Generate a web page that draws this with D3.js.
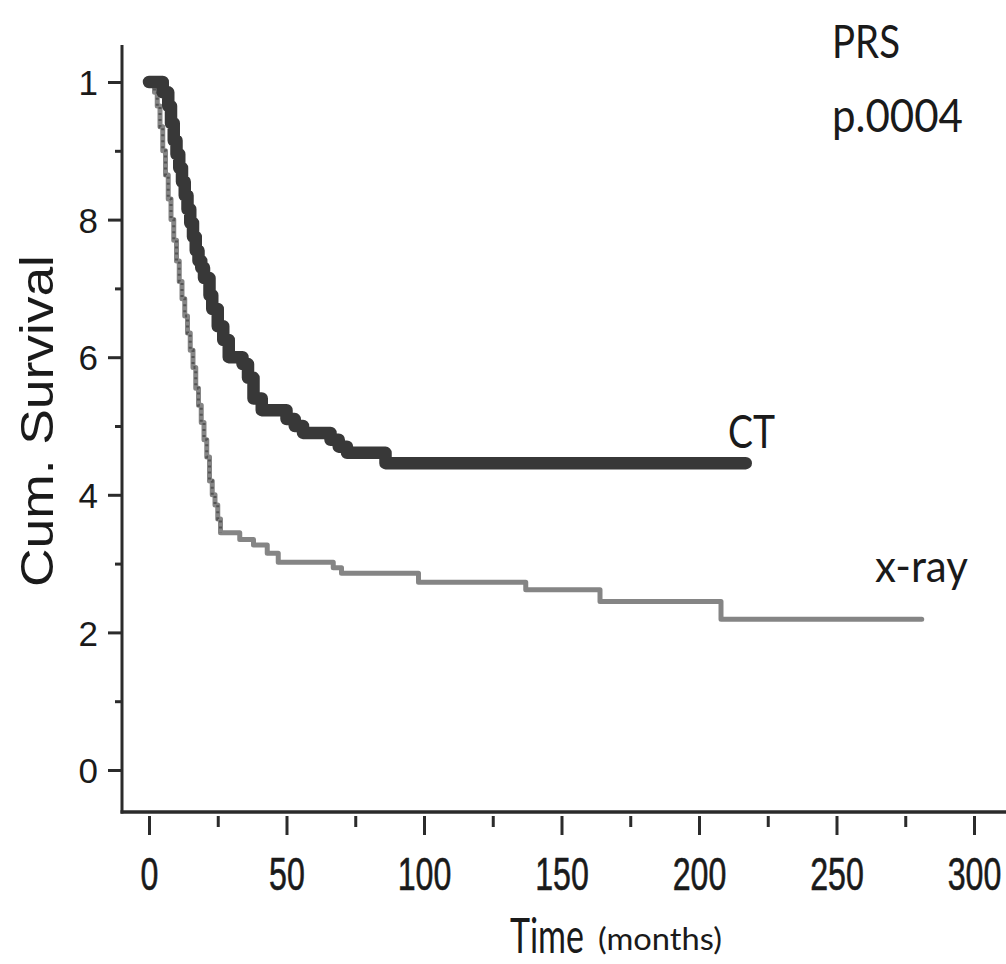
<!DOCTYPE html>
<html><head><meta charset="utf-8">
<script src="https://cdn.jsdelivr.net/npm/d3@7"></script>
<style>body{margin:0;background:#fff}svg{display:block}</style>
</head><body><svg id="c" width="1006" height="964"></svg>
<script>
// ---- data ----
const ctTime = [0,5,7,8,9,10,11,12,13,14,15,16,17,18,19,20,22,23,25,27,29,34,36,38,41,50,53,56,66,69,72,86,217];
const ctSurv = [1.0,0.985,0.965,0.94,0.915,0.895,0.875,0.855,0.835,0.815,0.795,0.775,0.755,0.74,0.73,0.715,0.69,0.67,0.645,0.625,0.60,0.59,0.57,0.54,0.523,0.51,0.50,0.49,0.48,0.47,0.461,0.446,0.446];
const xrayTime = [0,2,3,4,5,6,7,8,9,10,11,12,13,14,15,16,17,18,19,20,21,22,23,24,25,26,33,38,43,47,67,70,98,137,164,208,281];
const xraySurv = [1.0,0.985,0.965,0.935,0.90,0.865,0.83,0.80,0.77,0.74,0.71,0.685,0.66,0.635,0.61,0.585,0.555,0.53,0.505,0.48,0.455,0.42,0.40,0.385,0.365,0.345,0.335,0.327,0.315,0.302,0.294,0.286,0.273,0.262,0.245,0.219,0.219];
const yTickValues = [0,0.2,0.4,0.6,0.8,1];
const yTickLabels = ["0","2","4","6","8","1"];
const yMinorTicks = [0.1,0.3,0.5,0.7,0.9];
const xTickValues = [0,50,100,150,200,250,300];
const xMinorTicks = [25,75,125,175,225,275];
const seriesNames = ["CT","x-ray"];
const statTexts = ["PRS","p.0004"];
const yTitle = "Cum. Survival";
const xTitle = "Time";
const xUnit = "(months)";

const svg = d3.select("#c");
const x = d3.scaleLinear().domain([0,300]).range([149,974]);
const y = d3.scaleLinear().domain([0,1]).range([770,82]);
const axisColor = "#2b2b2b";
const axX = 122, axY = 812;

// axis lines
svg.append("line").attr("x1",axX).attr("x2",axX).attr("y1",45).attr("y2",axY+1.5)
  .attr("stroke",axisColor).attr("stroke-width",3);
svg.append("line").attr("x1",axX-1.5).attr("x2",1006).attr("y1",axY).attr("y2",axY)
  .attr("stroke",axisColor).attr("stroke-width",3.5);

// y axis
const gy = svg.append("g").attr("transform",`translate(${axX},0)`)
  .call(d3.axisLeft(y).tickValues(yTickValues).tickSize(14).tickPadding(10)
        .tickFormat((d,i)=>yTickLabels[i]));
gy.select(".domain").remove();
gy.selectAll(".tick line").attr("stroke",axisColor).attr("stroke-width",3);
gy.selectAll(".tick text").attr("font-family","Liberation Sans, Arial, sans-serif")
  .attr("font-size",35).attr("fill","#1a1a1a").attr("x",-24).attr("dy","0.36em");
const gym = svg.append("g").attr("transform",`translate(${axX},0)`)
  .call(d3.axisLeft(y).tickValues(yMinorTicks).tickSize(7).tickFormat(""));
gym.select(".domain").remove();
gym.selectAll(".tick line").attr("stroke",axisColor).attr("stroke-width",3);

// x axis
const gx = svg.append("g").attr("transform",`translate(0,${axY+4})`)
  .call(d3.axisBottom(x).tickValues(xTickValues).tickSize(19).tickFormat(d3.format("d")));
gx.select(".domain").remove();
gx.selectAll(".tick line").attr("stroke",axisColor).attr("stroke-width",3);
gx.selectAll(".tick text").attr("font-family","Liberation Sans, Arial, sans-serif")
  .attr("font-size",46).attr("fill","#1a1a1a").attr("y",74).attr("dy",null)
  .attr("stroke","#1a1a1a").attr("stroke-width",0.6)
  .attr("transform","scale(0.7,1)");
const gxm = svg.append("g").attr("transform",`translate(0,${axY+4})`)
  .call(d3.axisBottom(x).tickValues(xMinorTicks).tickSize(11).tickFormat(""));
gxm.select(".domain").remove();
gxm.selectAll(".tick line").attr("stroke",axisColor).attr("stroke-width",3);

// curves
const line = d3.line().x(d=>x(d[0])).y(d=>y(d[1])).curve(d3.curveStepAfter);
const xrayData = xrayTime.map((t,i)=>[t,xraySurv[i]]);
const ctData = ctTime.map((t,i)=>[t,ctSurv[i]]);
svg.append("path").attr("d",line(xrayData)).attr("fill","none")
  .attr("stroke","#858585").attr("stroke-width",5).attr("stroke-linejoin","round").attr("stroke-linecap","round");
svg.append("path").attr("d",line(xrayData.filter(d=>d[0]<=26))).attr("fill","none")
  .attr("stroke","#555").attr("stroke-width",3).attr("stroke-dasharray","2,4");
svg.append("path").attr("d",line(ctData)).attr("fill","none")
  .attr("stroke","#383838").attr("stroke-width",12.5).attr("stroke-linejoin","round").attr("stroke-linecap","round");

// texts: sized by font-size, then horizontally fitted with a scale transform
const tf = "Lato, 'Open Sans', sans-serif";
function txt(s,px,py,fs,len,family){
  const t = svg.append("text").attr("font-size",fs)
    .attr("font-family",family||tf).attr("fill","#1a1a1a").text(s);
  const w = t.node().getComputedTextLength() || len;
  t.attr("transform",`translate(${px},${py}) scale(${len/w},1)`);
  return t;
}
txt(statTexts[0],832,58,46,68);
txt(statTexts[1],832,132,46,131);
txt(seriesNames[0],728,448,46,47);
txt(seriesNames[1],875,582,44,93);
txt(xTitle,510,953,48,74);
txt(xUnit,598,950,30,124);
const yt = svg.append("text").attr("text-anchor","middle").attr("font-size",46)
  .attr("font-family","Liberation Sans, Arial, sans-serif").attr("fill","#1a1a1a").text(yTitle);
const yw = yt.node().getComputedTextLength() || 332;
yt.attr("transform",`translate(53,421) rotate(-90) scale(${332/yw},1)`);
</script>
</body></html>
